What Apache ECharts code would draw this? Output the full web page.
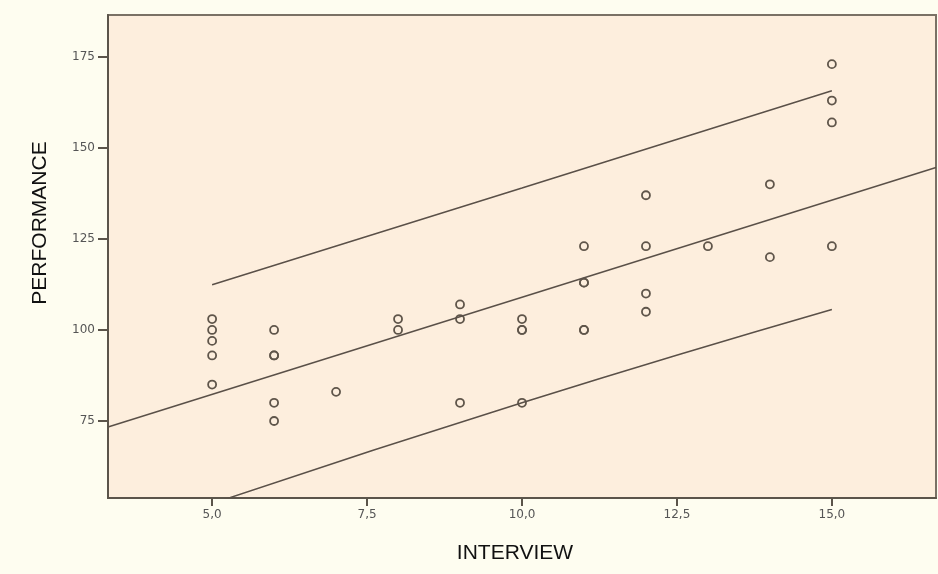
<!DOCTYPE html>
<html>
<head>
<meta charset="utf-8">
<script src="https://cdn.jsdelivr.net/npm/echarts@6/dist/echarts.min.js"></script>
<style>
html,body{margin:0;padding:0;background:#fefdf0;}
#chart{width:938px;height:574px;}
</style>
</head>
<body>
<div id="chart"></div>
<script>
// Observed points (INTERVIEW, PERFORMANCE); duplicates drawn twice
var interviewX = [5,5,5,5,5, 6,6,6,6,6, 7, 8,8, 9,9,9, 10,10,10,10, 11,11,11,11,11, 12,12,12,12, 13, 14,14, 15,15,15,15];
var performanceY = [103,100,97,93,85, 100,93,93,80,75, 83, 103,100, 107,103,80, 103,100,100,80, 123,113,113,100,100, 137,123,110,105, 123, 140,120, 173,163,157,123];

// Fit line (spans whole x range)
var fitX = [3.32, 16.68];
var fitY = [73.35, 144.6];

// Prediction interval lines
var piX = [5, 10, 15];
var upperY = [112.4, 139, 165.7];
var lowerY = [52.3, 80, 105.6];

// Axis ticks
var xTicks = [5, 7.5, 10, 12.5, 15];
var yTicks = [75, 100, 125, 150, 175];
var xRange = [3.32, 16.68];
var yRange = [53.85, 186.5];

function pairs(xs, ys){ return xs.map(function(x,i){ return [x, ys[i]]; }); }

var chart = echarts.init(document.getElementById('chart'), null, {renderer:'canvas'});
var lineColor = '#5a5048';
var titleFont = '21px "Liberation Sans", Arial, sans-serif';
var option = {
  backgroundColor: '#fefdf0',
  animation: false,
  grid: {left:108, top:15, right:2, bottom:76, show:true, backgroundColor:'#fdeedd', borderColor:'#7a7165', borderWidth:2},
  xAxis: {
    type:'value', min:xRange[0], max:xRange[1],
    axisLine:{show:true, onZero:false, lineStyle:{color:'#5b544a', width:2}},
    axisTick:{show:true, length:8, customValues:xTicks, lineStyle:{color:'#5b544a', width:2}},
    axisLabel:{show:true, customValues:xTicks, margin:11, color:'#555', fontSize:12, fontFamily:'DejaVu Sans',
      formatter:function(v){ return v.toFixed(1).replace('.', ','); }},
    splitLine:{show:false}
  },
  yAxis: {
    type:'value', min:yRange[0], max:yRange[1],
    axisLine:{show:true, onZero:false, lineStyle:{color:'#5b544a', width:2}},
    axisTick:{show:true, length:10, customValues:yTicks, lineStyle:{color:'#5b544a', width:2}},
    axisLabel:{show:true, customValues:yTicks, margin:13, color:'#555', fontSize:12, fontFamily:'DejaVu Sans'},
    splitLine:{show:false}
  },
  graphic: [
    {type:'text', x:515, y:553, style:{text:'INTERVIEW', fill:'#111', font:titleFont, textAlign:'center', textVerticalAlign:'middle'}},
    {type:'text', rotation:Math.PI/2, x:40, y:223, style:{text:'PERFORMANCE', fill:'#111', font:titleFont, textAlign:'center', textVerticalAlign:'middle'}}
  ],
  series: [
    {type:'line', data:pairs(fitX, fitY), symbol:'none', lineStyle:{color:lineColor, width:1.5}, clip:true, silent:true},
    {type:'line', data:pairs(piX, upperY), symbol:'none', smooth:true, lineStyle:{color:lineColor, width:1.5}, clip:true, silent:true},
    {type:'line', data:pairs(piX, lowerY), symbol:'none', smooth:true, lineStyle:{color:lineColor, width:1.5}, clip:true, silent:true},
    {type:'scatter', data:pairs(interviewX, performanceY), symbol:'circle', symbolSize:8,
      itemStyle:{color:'rgba(0,0,0,0)', borderColor:'#5f554a', borderWidth:1.8, opacity:1}}
  ]
};
chart.setOption(option);
</script>
</body>
</html>
